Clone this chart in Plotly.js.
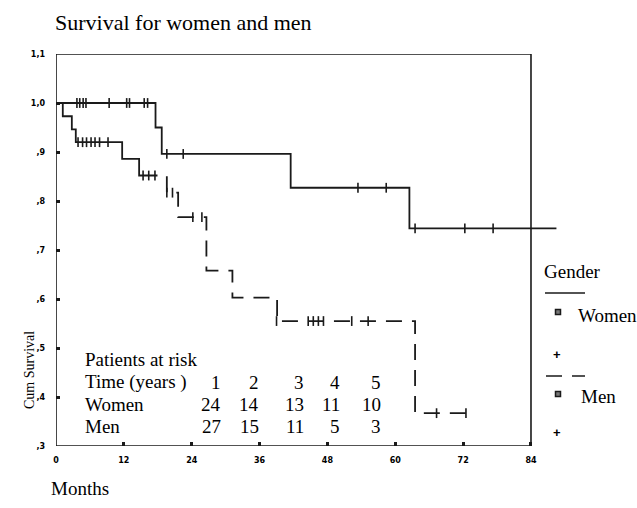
<!DOCTYPE html>
<html>
<head>
<meta charset="utf-8">
<script src="https://cdn.plot.ly/plotly-3.0.1.min.js"></script>
<style>html,body{margin:0;padding:0;background:#fff;}#chart{width:637px;height:508px;}</style>
</head>
<body>
<div id="chart"></div>
<script>
// ---- Data ----
const monthTicks = [0, 12, 24, 36, 48, 60, 72, 84];
const survTicks = [0.3, 0.4, 0.5, 0.6, 0.7, 0.8, 0.9, 1.0, 1.1];
const survTickText = [',3', ',4', ',5', ',6', ',7', ',8', ',9', '1,0', '1,1'];

// Kaplan-Meier step curves (time in months, cumulative survival)
const womenTime = [0, 17.6, 18.7, 41.5, 62.5, 88.5];
const womenSurv = [1.0, 0.950, 0.896, 0.827, 0.744, 0.744];
const menTime = [0, 1.2, 2.8, 3.5, 11.7, 14.7, 19.6, 21.6, 26.6, 31.2, 39.1, 63.5, 72.6];
const menSurv = [1.0, 0.973, 0.946, 0.920, 0.886, 0.852, 0.817, 0.767, 0.658, 0.603, 0.555, 0.367, 0.367];

// Censored observations
const womenCensTime = [3.7, 4.2, 4.8, 5.3, 9.4, 12.5, 13.0, 15.6, 16.2, 19.6, 22.5, 53.4, 58.4, 63.5, 72.3, 77.3];
const womenCensSurv = [1.0, 1.0, 1.0, 1.0, 1.0, 1.0, 1.0, 1.0, 1.0, 0.896, 0.896, 0.827, 0.827, 0.744, 0.744, 0.744];
const menCensTime = [3.9, 4.7, 5.4, 6.2, 6.9, 7.7, 9.2, 15.4, 16.4, 17.5, 19.6, 20.6, 24.2, 25.8, 39.0, 44.6, 45.5, 46.4, 47.3, 52.3, 55.2, 67.3, 72.5];
const menCensSurv = [0.920, 0.920, 0.920, 0.920, 0.920, 0.920, 0.920, 0.852, 0.852, 0.852, 0.817, 0.817, 0.767, 0.767, 0.555, 0.555, 0.555, 0.555, 0.555, 0.555, 0.555, 0.367, 0.367];

// Patients at risk table
const riskYears = ['1', '2', '3', '4', '5'];
const womenAtRisk = ['24', '14', '13', '11', '10'];
const menAtRisk = ['27', '15', '11', '5', '3'];

// ---- Layout helpers (pixel -> paper) ----
const L = 56, T = 54, W = 501, H = 392;
const px = x => (x - L) / W;
const py = y => (T + H - y) / H;

const ink = '#1a1a1a';
const serif = 'Liberation Serif';

let menDash = '174px,10px';
for (let i = 0; i < 26; i++) menDash += ',16px,10px';

const censMarker = {symbol: 'line-ns-open', size: 7, color: ink, line: {width: 1.6, color: ink}};

const traces = [
  {x: womenTime, y: womenSurv, mode: 'lines', line: {shape: 'hv', color: ink, width: 1.8}, showlegend: false, hoverinfo: 'skip'},
  {x: menTime, y: menSurv, mode: 'lines', line: {shape: 'hv', color: ink, width: 1.8, dash: menDash}, showlegend: false, hoverinfo: 'skip'},
  {x: womenCensTime, y: womenCensSurv, mode: 'markers', marker: censMarker, showlegend: false, hoverinfo: 'skip'},
  {x: menCensTime, y: menCensSurv, mode: 'markers', marker: censMarker, showlegend: false, hoverinfo: 'skip'}
];

const colRight = [222, 260, 305, 341, 382];
const annotations = [];
function txt(text, x, y, anchor, size, extra) {
  annotations.push(Object.assign({text: text, xref: 'paper', yref: 'paper', x: px(x), y: py(y),
    xanchor: anchor, yanchor: 'middle', showarrow: false, borderpad: 0,
    font: {family: serif, size: size, color: '#000'}}, extra || {}));
}
txt('Patients at risk', 84, 359, 'left', 19);
txt('Time (years )', 84, 382, 'left', 19);
txt('Women', 84, 404, 'left', 19);
txt('Men', 84, 426, 'left', 19);
riskYears.forEach((t, i) => txt(t, colRight[i], 382, 'right', 19));
womenAtRisk.forEach((t, i) => txt(t, colRight[i], 404, 'right', 19));
menAtRisk.forEach((t, i) => txt(t, colRight[i], 426, 'right', 19));

// axis titles
txt('Cum Survival', 29, 370, 'center', 14, {textangle: -90});
txt('Months', 50, 488, 'left', 19);

// legend
txt('Gender', 543, 271, 'left', 19);
txt('Women', 577, 315, 'left', 19);
txt('Men', 580, 396, 'left', 19);
txt('+', 557, 354, 'center', 13, {font: {family: 'Liberation Sans', size: 13, color: '#000', weight: 'bold'}});
txt('+', 557, 432, 'center', 13, {font: {family: 'Liberation Sans', size: 13, color: '#000', weight: 'bold'}});

const shapes = [
  {type: 'rect', xref: 'x', yref: 'y', x0: 0, x1: 84, y0: 0.3, y1: 1.1, line: {color: ink, width: 1.6}},
  {type: 'line', xref: 'paper', yref: 'paper', x0: px(545), x1: px(585), y0: py(293), y1: py(293), line: {color: ink, width: 1.5}},
  {type: 'line', xref: 'paper', yref: 'paper', x0: px(546), x1: px(585), y0: py(376), y1: py(376), line: {color: ink, width: 1.5, dash: '16px,10px'}},
  {type: 'rect', xref: 'paper', yref: 'paper', x0: px(555.5), x1: px(560.5), y0: py(309.5), y1: py(314.5), line: {color: ink, width: 1.5}, fillcolor: '#777'},
  {type: 'rect', xref: 'paper', yref: 'paper', x0: px(555.5), x1: px(560.5), y0: py(391.5), y1: py(396.5), line: {color: ink, width: 1.5}, fillcolor: '#777'}
];

const tickFont = {family: 'DejaVu Sans', size: 8, color: '#000', weight: 'bold'};

const layout = {
  width: 637, height: 508,
  margin: {l: L, r: 637 - L - W, t: T, b: 508 - T - H, pad: 0},
  paper_bgcolor: '#fff', plot_bgcolor: '#fff',
  title: {text: 'Survival for women and men', x: 55 / 637, xref: 'container', xanchor: 'left',
          y: 1 - 22 / 508, yref: 'container', yanchor: 'middle',
          font: {family: serif, size: 22, color: '#000'}},
  xaxis: {range: [0, 88.6], tickvals: monthTicks, ticktext: monthTicks.map(String),
          ticks: 'inside', ticklen: 4, tickwidth: 3, tickcolor: ink,
          showline: false, showgrid: false, zeroline: false, tickfont: tickFont, ticklabelstandoff: 8},
  yaxis: {range: [0.3, 1.1], tickvals: survTicks, ticktext: survTickText,
          ticks: 'inside', ticklen: 4, tickwidth: 3, tickcolor: ink,
          showline: false, showgrid: false, zeroline: false, tickfont: tickFont, ticklabelstandoff: 10},
  showlegend: false,
  annotations: annotations,
  shapes: shapes
};

Plotly.newPlot('chart', traces, layout, {displayModeBar: false, staticPlot: true});
</script>
</body>
</html>
